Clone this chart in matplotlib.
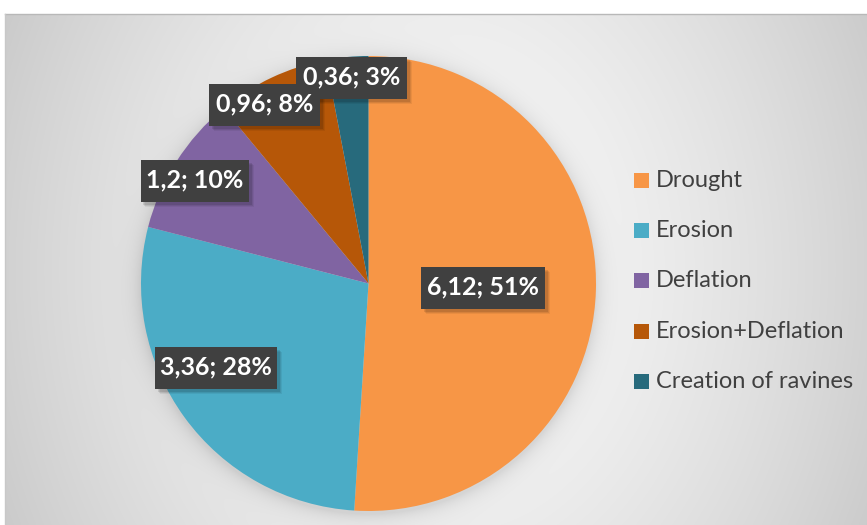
import numpy as np
import matplotlib
matplotlib.use("Agg")
import matplotlib.pyplot as plt
from matplotlib.patches import Rectangle

categories = ["Drought", "Erosion", "Deflation", "Erosion+Deflation", "Creation of ravines"]
values = [6.12, 3.36, 1.2, 0.96, 0.36]
value_labels = ["6,12", "3,36", "1,2", "0,96", "0,36"]
colors = ["#F79646", "#4BACC6", "#8064A2", "#B65708", "#276A7C"]

W, H = 867, 525
fig = plt.figure(figsize=(W / 100, H / 100), dpi=100)
fig.patch.set_facecolor("white")

# pie geometry in pixels
cx, cy, R = 368.5, 283.5, 227.5

# background with radial gradient and soft pie shadow
bg = fig.add_axes([0, 0, 1, 1])
yy, xx = np.mgrid[0:H, 0:W] + 0.5
r = np.sqrt(((xx - 440) / 560) ** 2 + ((yy - 270) / 700) ** 2)
g = 0.975 - 0.23 * np.clip(r, 0, 1.3) ** 1.6
d = np.sqrt((xx - cx) ** 2 + (yy - (cy + 3)) ** 2)
shadow = np.where(d > R, 0.10 * np.exp(-(d - R) / 9.0), 0.10)
g = g - shadow
img = np.dstack([g, g, g])
img[yy < 14] = 1.0
img[xx < 5] = 1.0
bg.imshow(img, extent=[0, W, H, 0], interpolation="bilinear", aspect="auto")
bg.plot([5, W], [14, 14], color="#b8b8b8", lw=1)
bg.plot([5, 5], [14, H], color="#c8c8c8", lw=1)
bg.set_xlim(0, W)
bg.set_ylim(H, 0)
bg.axis("off")

# pie axes
ax = fig.add_axes([(cx - R) / W, (H - cy - R) / H, 2 * R / W, 2 * R / H])
ax.pie(values, colors=colors, startangle=90, counterclock=False, radius=1.0,
       wedgeprops=dict(linewidth=0))
ax.set_xlim(-1, 1)
ax.set_ylim(-1, 1)
ax.set_aspect("equal")
ax.axis("off")

total = sum(values)
pct = [f"{round(v / total * 100)}%" for v in values]

# label centres (pixels) -> data coords
label_px = [(483, 288), (216, 367.5), (194.5, 181), (264.5, 105), (351.5, 77.5)]
box_w = [124, 122, 109, 111, 111]
box_h = 42
for (px, py), lab, p, bw in zip(label_px, value_labels, pct, box_w):
    x = (px - cx) / R
    y = (cy - py) / R
    w = bw / R
    h = box_h / R
    # shadow
    for k, a in enumerate([0.10, 0.08, 0.06]):
        off = (3 + k) / R
        ax.add_patch(Rectangle((x - w / 2 + off, y - h / 2 - off), w, h,
                               facecolor="black", alpha=a, lw=0, zorder=5))
    ax.add_patch(Rectangle((x - w / 2, y - h / 2), w, h, facecolor="#404040",
                           lw=0, zorder=6))
    ax.text(x, y + 1 / R, f"{lab}; {p}", ha="center", va="center", color="white",
            fontsize=18, fontweight="bold", family="Lato", zorder=7)

# legend
lx, ly0, dy = 634, 180.5, 50.2
lab_ax = bg
for i, (c, name) in enumerate(zip(colors, categories)):
    yc = ly0 + i * dy
    lab_ax.add_patch(Rectangle((lx, yc - 7.5), 15, 15, facecolor=c, lw=0))
    lab_ax.text(lx + 22, yc, name, ha="left", va="center", color="#404040",
                fontsize=17, family="Lato")

fig.savefig("out.png", dpi=100)
